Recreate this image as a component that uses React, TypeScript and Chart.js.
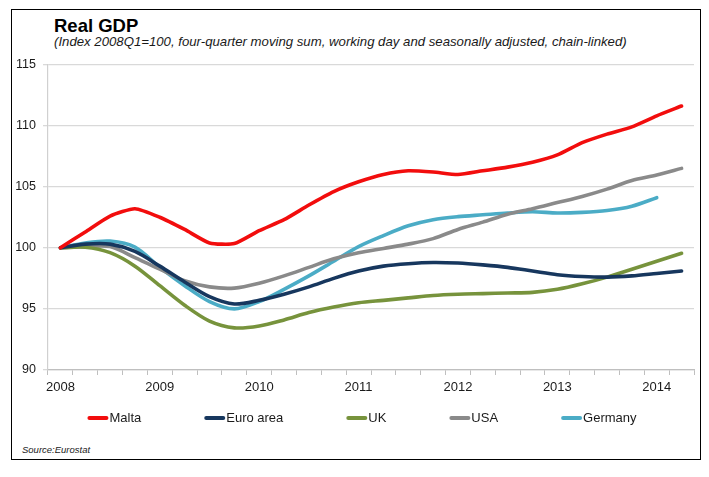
import React, { useEffect, useRef } from 'react';
import { Chart, registerables } from 'chart.js';

Chart.register(...registerables);

const FONT = "'Liberation Sans', Arial, Helvetica, sans-serif";

// 2008Q1 .. 2014Q2
const quarters = [
    '2008Q1', '2008Q2', '2008Q3', '2008Q4',
    '2009Q1', '2009Q2', '2009Q3', '2009Q4',
    '2010Q1', '2010Q2', '2010Q3', '2010Q4',
    '2011Q1', '2011Q2', '2011Q3', '2011Q4',
    '2012Q1', '2012Q2', '2012Q3', '2012Q4',
    '2013Q1', '2013Q2', '2013Q3', '2013Q4',
    '2014Q1', '2014Q2'
];

const malta = [
    100, 101.3, 102.6, 103.2, 102.5, 101.5, 100.4, 100.35,
    101.4, 102.3, 103.5, 104.6, 105.4, 106.0, 106.3, 106.2,
    106.0, 106.3, 106.6, 107.0, 107.6, 108.6, 109.3, 109.9,
    110.8, 111.6
];
const euroArea = [
    100, 100.3, 100.3, 99.7, 98.5, 97.2, 96.0, 95.4,
    95.7, 96.2, 96.8, 97.5, 98.1, 98.5, 98.7, 98.8,
    98.75, 98.6, 98.4, 98.1, 97.8, 97.65, 97.6, 97.7,
    97.9, 98.1
];
const uk = [
    100, 100.05, 99.6, 98.5, 96.9, 95.3, 94.0, 93.45,
    93.6, 94.1, 94.7, 95.15, 95.5, 95.7, 95.9, 96.1,
    96.2, 96.25, 96.3, 96.35, 96.6, 97.05, 97.6, 98.25,
    98.9, 99.55
];
const usa = [
    100, 100.1, 100.1, 99.2, 98.25, 97.3, 96.8, 96.7,
    97.1, 97.7, 98.4, 99.1, 99.6, 99.95, 100.3, 100.75,
    101.5, 102.1, 102.75, 103.2, 103.7, 104.2, 104.8, 105.5,
    105.95, 106.5
];
const germany = [
    100, 100.4, 100.55, 100.05, 98.4, 96.9, 95.6, 95.0,
    95.6, 96.6, 97.7, 98.9, 100.1, 101.0, 101.8, 102.3,
    102.55, 102.7, 102.85, 102.95, 102.85, 102.9, 103.05, 103.4,
    104.1, null
];

const yTicks = [90, 95, 100, 105, 110, 115];

// Excel style legend: short thick line followed directly by the text
const lineLegend = {
    id: 'lineLegend',
    afterDraw(chart, _args, opts) {
        const { ctx, chartArea } = chart;
        ctx.save();
        ctx.font = `${opts.fontSize}px ${FONT}`;
        ctx.textBaseline = 'middle';
        const items = chart.data.datasets.map(ds => ({
            text: ds.label,
            color: ds.borderColor,
            w: opts.boxWidth + opts.textGap + ctx.measureText(ds.label).width
        }));
        const total = items.reduce((s, it) => s + it.w, 0) + opts.gap * (items.length - 1);
        let x = opts.centerX - total / 2;
        const y = chartArea.bottom + opts.yOffset;
        items.forEach(it => {
            ctx.strokeStyle = it.color;
            ctx.lineWidth = opts.lineWidth;
            ctx.lineCap = 'round';
            ctx.beginPath();
            ctx.moveTo(x + 2, y);
            ctx.lineTo(x + opts.boxWidth - 2, y);
            ctx.stroke();
            ctx.fillStyle = opts.color;
            ctx.fillText(it.text, x + opts.boxWidth + opts.textGap, y + 0.5);
            x += it.w + opts.gap;
        });
        ctx.restore();
    }
};

function GdpChart() {
    const canvas = useRef(null);

    useEffect(() => {
        const line = (label, data, color, tension) => ({
            label,
            data,
            borderColor: color,
            backgroundColor: color,
            borderWidth: 3.6,
            pointRadius: 0,
            tension,
            borderCapStyle: 'round',
            borderJoinStyle: 'round'
        });

        const chart = new Chart(canvas.current, {
            type: 'line',
            data: {
                labels: quarters,
                datasets: [
                    line('Malta', malta, '#f20d0d', 0.2),
                    line('Euro area', euroArea, '#17375e', 0.3),
                    line('UK', uk, '#77933c', 0.3),
                    line('USA', usa, '#8a8a8a', 0.3),
                    line('Germany', germany, '#4bacc6', 0.3)
                ]
            },
            options: {
                animation: false,
                responsive: true,
                maintainAspectRatio: false,
                layout: {
                    padding: { top: 11, right: 8, bottom: 44, left: 0 }
                },
                plugins: {
                    legend: { display: false },
                    tooltip: { enabled: false },
                    lineLegend: {
                        fontSize: 13,
                        color: '#1a1a1a',
                        boxWidth: 21,
                        textGap: 1,
                        gap: 63,
                        lineWidth: 4,
                        centerX: 350,
                        yOffset: 48
                    }
                },
                scales: {
                    x: {
                        offset: true,
                        afterFit: scale => { scale.height = 26; },
                        grid: {
                            offset: true,
                            drawOnChartArea: false,
                            drawTicks: true,
                            tickLength: 5,
                            color: '#bfbfbf'
                        },
                        border: { display: true, color: '#bfbfbf', width: 1.2 },
                        ticks: {
                            autoSkip: false,
                            maxRotation: 0,
                            padding: 5,
                            color: '#1a1a1a',
                            font: { family: FONT, size: 13 },
                            callback: function (value) {
                                const q = this.getLabelForValue(value);
                                return q.endsWith('Q1') ? q.slice(0, 4) : '';
                            }
                        }
                    },
                    y: {
                        min: 90,
                        max: 115,
                        afterFit: scale => { scale.width = 36; },
                        afterBuildTicks: scale => {
                            scale.ticks = yTicks.map(v => ({ value: v }));
                        },
                        grid: {
                            color: '#d9d9d9',
                            lineWidth: 1.3,
                            tickLength: 5
                        },
                        border: { display: true, color: '#d0d0d0', width: 1.2 },
                        ticks: {
                            padding: 7,
                            color: '#1a1a1a',
                            font: { family: FONT, size: 12.5 }
                        }
                    }
                }
            },
            plugins: [lineLegend]
        });
        return () => {
            chart.destroy();
        };
    }, []);

    return <canvas ref={canvas}></canvas>;
}

export default function App() {
    return (
        <div style={{
            position: 'absolute', left: 0, top: 0, width: 709, height: 477,
            background: '#fff', fontFamily: FONT, color: '#000'
        }}>
            <div style={{
                position: 'absolute', left: 11, top: 9, width: 690, height: 451,
                border: '1.5px solid #000', boxSizing: 'border-box'
            }} />
            <div style={{
                position: 'absolute', left: 54, top: 15, fontSize: 18.5,
                fontWeight: 'bold', whiteSpace: 'nowrap', lineHeight: 'normal'
            }}>Real GDP</div>
            <div style={{
                position: 'absolute', left: 54, top: 34, fontSize: 13.2,
                fontStyle: 'italic', whiteSpace: 'nowrap', lineHeight: 'normal', color: '#1a1a1a'
            }}>(Index 2008Q1=100, four-quarter moving sum, working day and seasonally adjusted, chain-linked)</div>
            <div style={{ position: 'absolute', left: 12, top: 50, width: 690, height: 390 }}>
                <GdpChart />
            </div>
            <div style={{
                position: 'absolute', left: 22, top: 444, fontSize: 9.5,
                fontStyle: 'italic', whiteSpace: 'nowrap', lineHeight: 'normal', color: '#1a1a1a'
            }}>Source:Eurostat</div>
        </div>
    );
}
